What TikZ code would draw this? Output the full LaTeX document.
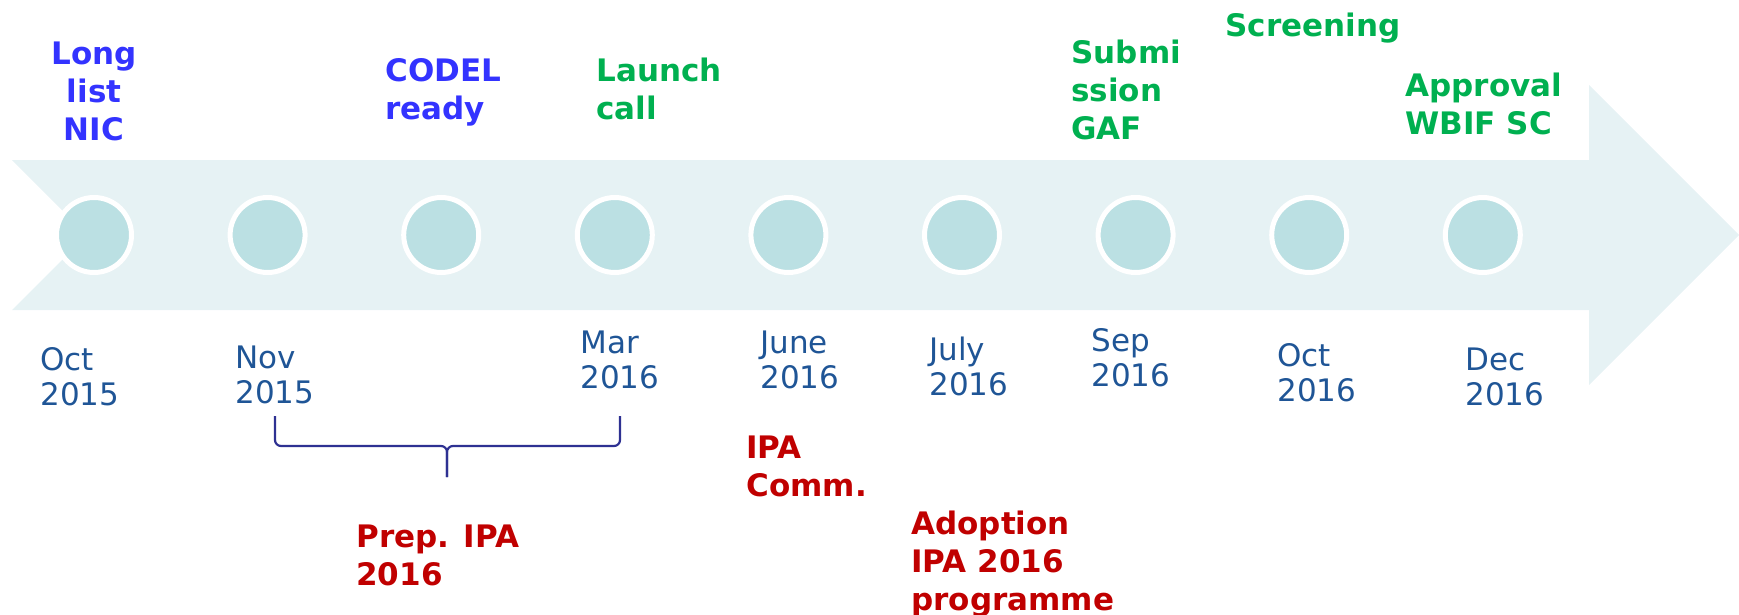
\documentclass[tikz,border=0pt]{standalone}
\usepackage{fontspec}
\setmainfont{DejaVu Sans}
\usepackage{xcolor}
\usepackage{tikz}
\usetikzlibrary{positioning}
\definecolor{bandfill}{RGB}{230,242,244}
\definecolor{dotfill}{RGB}{187,224,227}
\definecolor{dateblue}{RGB}{31,85,150}
\definecolor{evblue}{RGB}{51,51,255}
\definecolor{evgreen}{RGB}{0,176,80}
\definecolor{evred}{RGB}{192,0,0}
\definecolor{bracecol}{RGB}{46,49,146}

\begin{document}
\begin{tikzpicture}[x=0.5pt, y=-0.5pt,
                milestone/.style={
                  circle, fill=dotfill, draw=white, line width=2.5pt,
                  minimum size=37.5pt, inner sep=0pt
                },
                datelabel/.style={
                  anchor=north west, inner sep=0pt, align=left, text=dateblue,
                  font=\fontsize{15.5pt}{17.5pt}\selectfont
                },
                eventlabel/.style={
                  anchor=north west, inner sep=0pt, align=left, text=#1,
                  font=\bfseries\fontsize{15.5pt}{19pt}\selectfont
                },
                eventlabel/.default=evgreen,
                braceline/.style={draw=bracecol, line width=1.1pt, rounded corners=3pt},
              ]
              \useasboundingbox (0,0) rectangle (1739,615);

              % the timeline arrow
              \fill[bandfill] (12,160) -- (1589,160) -- (1589,85) -- (1739,235)
                -- (1589,385) -- (1589,310) -- (12,310) -- (87,235) -- cycle;

              \node [milestone] at (94,235) (c1) {};
              \node [milestone] at (267.6,235) (c2) {};
              \node [milestone] at (441.2,235) (c3) {};
              \node [milestone] at (614.8,235) (c4) {};
              \node [milestone] at (788.4,235) (c5) {};
              \node [milestone] at (962,235) (c6) {};
              \node [milestone] at (1135.6,235) (c7) {};
              \node [milestone] at (1309.2,235) (c8) {};
              \node [milestone] at (1482.8,235) (c9) {};

              % dates under the arrow
              \node [datelabel] at (40,347) (oct15) {Oct\\2015};
              \node [datelabel] at (235,345) (nov15) {Nov\\2015};
              \node [datelabel] at (580,330) (mar16) {Mar\\2016};
              \node [datelabel] at (760,330) (jun16) {June\\2016};
              \node [datelabel] at (929,337) (jul16) {July\\2016};
              \node [datelabel] at (1091,328) (sep16) {Sep\\2016};
              \node [datelabel] at (1277,343) (oct16) {Oct\\2016};
              \node [datelabel] at (1465,347) (dec16) {Dec\\2016};

              % events above the arrow
              \node [eventlabel=evblue, anchor=north, align=center] at (94,42) (longlist) {Long\\list\\NIC};
              \node [eventlabel=evblue] at (385,58) (codel) {CODEL\\ready};
              \node [eventlabel] at (596,58) (launch) {Launch\\call};
              \node [eventlabel] at (1071,40) (submission) {Submi\\ssion\\GAF};
              \node [eventlabel] at (1225,13) (screening) {Screening};
              \node [eventlabel] at (1405,73) (approval) {Approval\\WBIF SC};

              % events below the arrow
              \node [eventlabel=evred] at (746,435) (ipacomm) {IPA\\Comm.};
              \node [eventlabel=evred] at (911,511) (adoption) {Adoption\\IPA 2016\\programme};
              \node [eventlabel=evred] at (356,524) (prep) {Prep. IPA\\2016};

              % brace from Nov 2015 to Mar 2016
              \coordinate (braceL) at (275,416);
              \coordinate (braceR) at (620,416);
              \coordinate (braceM) at (447,477);
              \draw [braceline] (braceL) -- (275,446) -- (447,446) -- (braceM);
              \draw [braceline] (braceR) -- (620,446) -- (447,446) -- (braceM);
\end{tikzpicture}
\end{document}
